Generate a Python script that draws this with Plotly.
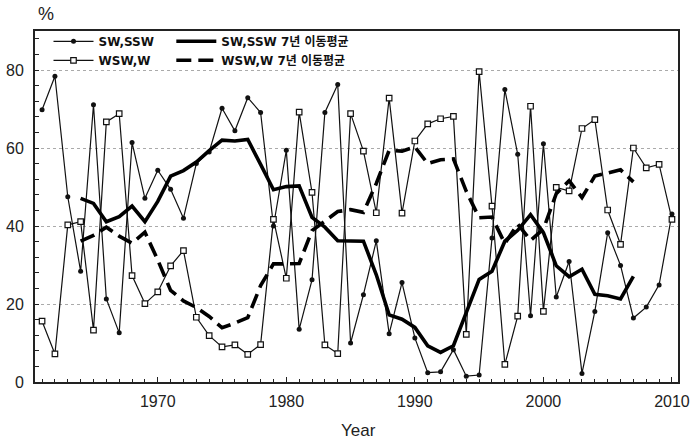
import plotly.graph_objects as go

years = list(range(1961, 2011))
sw_ssw = [69.8, 78.4, 47.5, 28.4, 71.1, 21.3, 12.6, 61.4, 47.1, 54.3,
          49.4, 42.0, 56.0, 59.0, 70.2, 64.4, 72.9, 69.1, 40.0, 59.4,
          13.5, 26.2, 69.1, 76.3, 10.0, 22.4, 36.2, 12.4, 25.5, 11.3,
          2.4, 2.6, 8.3, 1.5, 1.8, 36.9, 75.0, 58.4, 17.0, 61.1,
          21.8, 30.9, 2.2, 18.1, 38.3, 29.9, 16.4, 19.2, 24.9, 43.1]
wsw_w = [15.6, 7.2, 40.3, 41.1, 13.3, 66.7, 68.8, 27.3, 20.1, 23.1,
         29.8, 33.7, 16.6, 11.9, 9.0, 9.5, 7.1, 9.6, 41.7, 26.6,
         69.2, 48.6, 9.5, 7.3, 68.8, 59.2, 43.4, 72.8, 43.3, 61.8,
         66.2, 67.5, 68.1, 12.2, 79.6, 45.1, 4.5, 16.9, 70.7, 18.1,
         49.9, 49.0, 65.0, 67.3, 44.1, 35.3, 60.0, 54.9, 55.8, 41.7]

ma_years = list(range(1964, 2008))
sw_ma = [47.1, 45.8, 41.1, 42.4, 45.1, 41.1, 46.3, 52.8, 54.2, 56.4,
         59.3, 62.0, 61.8, 62.2, 55.8, 49.3, 50.1, 50.3, 42.2, 39.7,
         36.2, 36.1, 36.1, 27.5, 17.2, 16.1, 14.0, 9.3, 7.6, 9.3,
         18.1, 26.3, 28.4, 36.1, 38.9, 42.9, 38.3, 29.8, 27.0, 28.9,
         22.5, 22.1, 21.3, 27.1]
wsw_ma = [36.1, 37.6, 39.7, 37.4, 35.6, 38.4, 31.3, 23.5, 20.8, 19.1,
          16.8, 13.9, 15.1, 16.5, 24.7, 30.3, 30.3, 30.4, 38.8, 41.3,
          43.7, 44.2, 43.5, 50.9, 59.4, 59.2, 60.3, 56.0, 57.0, 57.2,
          48.9, 42.1, 42.3, 35.5, 40.5, 36.3, 39.2, 48.3, 51.6, 47.3,
          52.8, 53.6, 54.4, 51.3]

names = ["SW,SSW", "WSW,W", "SW,SSW 7년 이동평균", "WSW,W 7년 이동평균"]
x_ticks = [1970, 1980, 1990, 2000, 2010]
y_ticks = [0, 20, 40, 60, 80]

fig = go.Figure()
fig.add_trace(go.Scatter(
    x=years, y=sw_ssw, name=names[0], mode="lines+markers",
    line=dict(color="#111", width=1.2),
    marker=dict(symbol="circle", size=5, color="#111"),
    legend="legend"))
fig.add_trace(go.Scatter(
    x=years, y=wsw_w, name=names[1], mode="lines+markers",
    line=dict(color="#111", width=1.2),
    marker=dict(symbol="square", size=5.5, color="white",
                line=dict(color="#111", width=1.2)),
    legend="legend"))
fig.add_trace(go.Scatter(
    x=ma_years, y=sw_ma, name=names[2], mode="lines",
    line=dict(color="#000", width=3.6),
    legend="legend2"))
fig.add_trace(go.Scatter(
    x=ma_years, y=wsw_ma, name=names[3], mode="lines",
    line=dict(color="#000", width=3.6, dash="15px,7px"),
    legend="legend2"))

legend_font = dict(family="DejaVu Sans, Noto Sans CJK KR", size=12,
                   color="#111", weight="bold")
tick_font = dict(family="Liberation Sans, Arial", size=16, color="#222")

PH = 351.5
fig.update_layout(
    width=692, height=444,
    margin=dict(l=35, r=14, t=31, b=61.5, autoexpand=False),
    paper_bgcolor="white", plot_bgcolor="white",
    showlegend=True,
    legend=dict(x=0.021, y=1.012, xanchor="left", yanchor="top",
                font=legend_font, bgcolor="rgba(0,0,0,0)",
                tracegroupgap=0, itemwidth=40),
    legend2=dict(x=0.212, y=1.012, xanchor="left", yanchor="top",
                 font=legend_font, bgcolor="rgba(0,0,0,0)",
                 tracegroupgap=0, itemwidth=40),
    xaxis=dict(range=[1960.45, 2010.47], tickvals=x_ticks,
               ticks="inside", ticklen=5, tickwidth=1.3, tickcolor="#222",
               minor=dict(dtick=1, tick0=1960, ticks="inside", ticklen=3,
                          tickwidth=1.1, tickcolor="#222"),
               showgrid=False, zeroline=False,
               showline=True, linecolor="#222", linewidth=1.8, mirror=True,
               tickfont=tick_font, ticklabelstandoff=4, automargin=False),
    yaxis=dict(range=[0, 90], tickvals=y_ticks,
               ticks="inside", ticklen=4, tickwidth=1.3, tickcolor="#222",
               minor=dict(dtick=4, tick0=0, ticks="inside", ticklen=4,
                          tickwidth=1.1, tickcolor="#222", showgrid=False),
               showgrid=True, gridcolor="#aaa", griddash="dot", gridwidth=1,
               zeroline=False,
               showline=True, linecolor="#222", linewidth=1.8, mirror=True,
               tickfont=tick_font, ticklabelstandoff=6, automargin=False),
    annotations=[
        dict(text="%", xref="paper", yref="paper", x=(46 - 35) / 643,
             y=(382.5 - 14) / PH, xanchor="center", yanchor="middle",
             showarrow=False,
             font=dict(family="Liberation Sans, Arial", size=18, color="#222")),
        dict(text="Year", xref="paper", yref="paper", x=(358 - 35) / 643,
             y=(382.5 - 431) / PH, xanchor="center", yanchor="middle",
             showarrow=False,
             font=dict(family="Liberation Sans, Arial", size=17, color="#222")),
    ],
)

fig.write_html(
    "out.html",
    config={"displayModeBar": False},
    post_script="document.body.style.margin='0px';document.body.style.overflow='hidden';",
)
